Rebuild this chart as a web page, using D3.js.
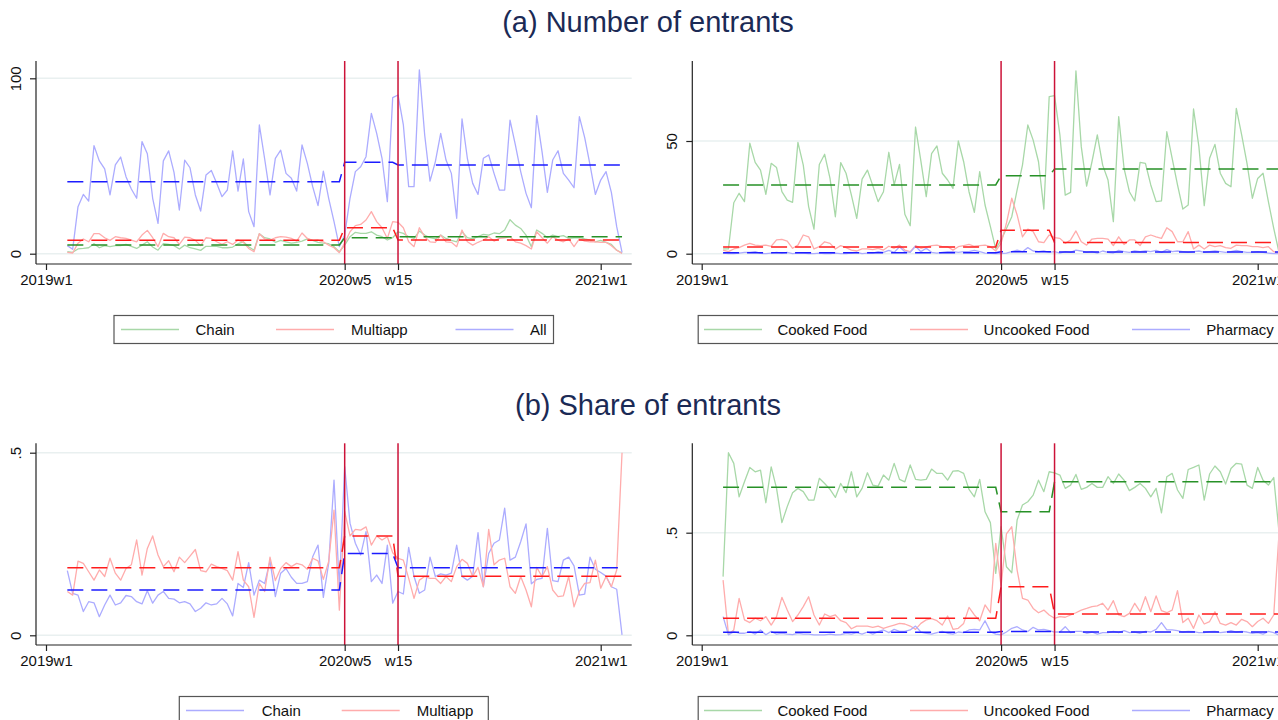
<!DOCTYPE html>
<html>
<head>
<meta charset="utf-8">
<script src="https://cdn.jsdelivr.net/npm/d3@7"></script>
<style>
  body { margin: 0; background: #fff; }
  text { font-family: "Liberation Sans", Arial, Helvetica, sans-serif; }
</style>
</head>
<body>
<svg id="chart" width="1278" height="720"></svg>
<script>
// weeks counted from 2019w1 (Stata weekly dates, 52 weeks a year)
var weeks = d3.range(4, 109);   // 2019w5 .. 2021w5
var tickWeeks = [0, 56, 66, 104];
var tickLabels = ["2019w1", "2020w5", "w15", "2021w1"];
var breakWeeks = [56, 66];      // 2020w5 and 2020w15

// (a) number of entrants, left panel
var nChain = [1.1,0.8,2.7,3,3.4,5.7,3.4,4.6,4,4.6,4.6,5.3,4.2,3,4.9,6.8,3.8,2,5.7,5.3,4.6,2.7,4.9,3.4,2.7,1.9,4.2,4.2,4.2,3.4,3.4,3.8,5.7,6.8,4,2,11.4,9.1,8.4,6.5,7.6,6.8,6,6.5,7.2,8.4,7.6,6.5,6,5.7,4,1.1,
  4.9,9.7,12.2,11.6,11.6,12.5,10.6,9.7,7.8,9.1,12.5,11.6,9.7,8.7,12.9,10.6,9.1,8.4,10.6,8.7,7.6,6.8,12.5,9.1,8.4,9.7,11,10.6,11.8,11.4,13.5,19.4,16.3,14.4,10.6,4,13.5,11.6,9.1,10.6,9.7,10.3,8.7,9.1,9.1,8.4,7.8,6.8,7.6,6.5,5.3,2,0.4];
var nMulti = [0.8,0.4,6,8.4,6.8,11.4,11.4,9.1,7.6,9.7,9.1,8.7,7.8,6.8,10.6,13.3,9.1,4,11.6,9.7,9.1,5.3,9.5,9.1,7.6,4.6,9.1,8.7,6.8,5.3,6.8,5.3,7.8,6.5,3,1.1,11.4,8.4,7.8,9.1,9.7,9.5,8.7,7.2,11.8,8.7,7.6,7.8,6.8,4.9,3.4,0.6,
  6,12.5,16,16.7,19.2,24,18.3,14.8,8.7,18.3,17.9,14.8,6.8,4,14.8,9.7,6.8,6.5,10.6,6.8,6.5,4,13.5,6.8,4.9,6.5,7.8,9.7,7.2,8.7,9.1,9.7,6.8,6,4.6,2.7,12.5,9.1,6,9.7,7.8,6.8,8.4,4,8.4,7.2,6.8,6.8,6.5,6.5,4.6,2,0.2];
var nAll = [4.6,2.5,26.8,33.8,30,61.6,52.9,48.3,33.5,50.6,55.1,43.9,36.9,31.6,63.9,57,31.6,17.3,52.9,58.6,46.4,24.9,53.4,49,33.5,24.3,44.9,47.5,40.1,32.5,36.3,58.6,35.7,54,24,15.4,73.4,54,33.5,54.4,59,45.8,43,35.7,62,51.5,38.2,27.4,47.1,31.6,18.3,4,
  10.6,31.6,46.8,49.6,55.3,80,68.6,54.4,29.7,89,90.5,73.4,38.2,38.2,104.8,67.7,41.4,52.5,68.6,53.4,45.8,20.2,76.8,54.4,40.1,33.8,54.4,56.3,45.8,36.3,36.3,76.2,62,46.8,34.4,26.2,78.7,58.2,35,53.4,58.7,45.8,42,37.6,78.1,66.2,50.6,33.8,42,46.8,35,15.4,0.8];

// (a) number of entrants, right panel
var nCooked = [2.1,2.1,22.6,26.8,23.1,49,40.5,37.1,26.3,40.1,38.2,27.5,23.8,22.8,49.4,39.3,20.9,10.9,39.6,44.1,33.4,16.4,40.4,35.7,26,15.7,33.1,37.1,30.2,23.1,27.5,45,30.5,39.6,17.5,12.4,56.2,41.1,25.3,44.4,47.8,35.7,32.7,29,50,40.8,27.5,18.3,36.4,21.6,12,2.1,
  6.1,11.2,16.4,28.3,39.3,57.1,50.4,40.8,19.8,69.7,70.1,52.7,26,27.2,81.1,47.5,30,40.8,52.7,39.3,32.7,14.2,60.8,37.9,27.5,23.4,40.5,40.1,30.5,23.1,23.4,54.1,42.3,30.5,19.8,21.6,64.2,47.5,21.3,42.3,48.5,35.7,31.2,29.7,64.5,52.7,40.1,24.6,33.4,35.7,23.1,11.2,0.5];
var nUncooked = [1.6,0.9,2.1,2.7,3.8,4.6,3.8,3.6,3.8,3.3,6.1,6.4,5.6,2.4,3.8,8.3,7.5,2.1,3.1,5.3,4.6,2.1,3.6,2.7,1.6,1.2,2.1,2.1,1.8,2.4,1.6,3.3,2.4,3.8,1.6,0.9,3.6,2.4,3,3.6,3.8,3.1,3.1,1.6,3.1,3.6,4.1,3.3,3.6,3.8,3.1,1.2,
  4.6,13.5,24.6,17.2,7.5,10.9,9.8,5.3,4.9,8.3,7.1,6.8,4.6,6.1,10.1,5.3,3.8,6.5,6.8,6.8,6.5,3.6,7.5,4.1,6.1,6.1,3.6,7.5,8.3,7.5,6.8,11.5,9.8,5.3,5.3,9.8,2.1,3.8,2.1,3.8,3.1,3.6,2.7,2.4,3.8,3.6,3.6,3.1,3.1,2.7,3.1,0.9,0.1];
var nPharm = [0.3,0,0,0.3,0.6,0.6,0.9,0.1,0,0.3,0.6,0.3,0.6,0,0.3,0.3,0,0,0.3,0,0,0.3,0,0,0.3,0.6,0,0.3,0.3,0.9,0.6,1.5,0.6,3.1,0.9,0.6,3.3,0.9,2.4,0.6,0.3,0.6,0.9,0.9,0.6,0.9,0.9,1.5,0.9,0.3,0.1,0,
  0,0.3,0.9,1.6,0.9,2.7,1.2,0.9,1.2,0.6,0.9,0.3,0.9,0.6,1.6,1.2,0.6,0.9,0.3,1.2,0.6,0.3,1.5,0.9,0.6,1.2,0.9,1.2,0.9,1.5,0.6,1.8,0.9,1.2,0.9,0.6,0.9,1.2,0.6,0.9,1.2,0.9,0.6,0.9,1.5,0.9,0.6,0.6,0.9,0.6,0.3,0,0];

// (b) share of entrants, left panel
var sChain = [0.177,0.115,0.110,0.065,0.092,0.089,0.051,0.083,0.110,0.083,0.089,0.109,0.106,0.092,0.086,0.122,0.088,0.110,0.120,0.101,0.099,0.089,0.092,0.086,0.065,0.074,0.089,0.083,0.086,0.101,0.086,0.053,0.142,0.131,0.199,0.110,0.151,0.142,0.204,0.106,0.170,0.183,0.159,0.142,0.142,0.147,0.215,0.247,0.104,0.197,0.425,0.133,
  0.462,0.307,0.252,0.22,0.284,0.147,0.165,0.142,0.247,0.088,0.120,0.113,0.241,0.161,0.115,0.124,0.214,0.161,0.168,0.165,0.170,0.247,0.161,0.151,0.162,0.281,0.133,0.224,0.252,0.261,0.348,0.206,0.214,0.256,0.305,0.141,0.153,0.156,0.293,0.150,0.147,0.206,0.214,0.190,0.110,0.113,0.214,0.181,0.172,0.162,0.133,0.126,0.001];
var sMulti = [0.120,0.110,0.203,0.197,0.174,0.151,0.179,0.161,0.211,0.170,0.151,0.183,0.193,0.261,0.165,0.238,0.272,0.220,0.188,0.204,0.174,0.214,0.199,0.217,0.235,0.177,0.174,0.195,0.188,0.183,0.177,0.151,0.229,0.151,0.133,0.049,0.142,0.120,0.214,0.150,0.183,0.199,0.188,0.197,0.193,0.181,0.211,0.204,0.153,0.202,0.343,0.069,
  0.339,0.272,0.290,0.288,0.297,0.247,0.272,0.261,0.270,0.226,0.211,0.206,0.156,0.101,0.151,0.161,0.156,0.156,0.142,0.161,0.147,0.188,0.208,0.197,0.161,0.186,0.133,0.290,0.193,0.206,0.211,0.133,0.115,0.161,0.124,0.078,0.186,0.161,0.188,0.124,0.106,0.108,0.161,0.078,0.120,0.142,0.144,0.206,0.129,0.161,0.133,0.179,0.500];

// (b) share of entrants, right panel
var sCooked = [0.286,0.890,0.838,0.675,0.748,0.818,0.797,0.805,0.646,0.821,0.716,0.549,0.627,0.695,0.716,0.700,0.659,0.659,0.765,0.740,0.711,0.672,0.740,0.695,0.797,0.675,0.716,0.792,0.732,0.727,0.781,0.756,0.838,0.760,0.748,0.830,0.760,0.756,0.760,0.810,0.789,0.789,0.756,0.800,0.802,0.789,0.711,0.675,0.760,0.602,0.549,0.302,
  0.529,0.334,0.305,0.562,0.635,0.651,0.683,0.756,0.700,0.797,0.792,0.781,0.716,0.732,0.784,0.711,0.721,0.740,0.721,0.721,0.773,0.740,0.786,0.756,0.705,0.721,0.740,0.716,0.675,0.716,0.597,0.773,0.789,0.708,0.667,0.808,0.818,0.830,0.659,0.786,0.825,0.797,0.737,0.813,0.838,0.834,0.732,0.716,0.818,0.756,0.732,0.769,0.5];
var sUncooked = [0.269,0.006,0.026,0.180,0.075,0.062,0.083,0.071,0.091,0.050,0.091,0.185,0.123,0.067,0.099,0.140,0.188,0.099,0.050,0.104,0.091,0.099,0.071,0.062,0.032,0.045,0.045,0.045,0.039,0.045,0.034,0.042,0.050,0.058,0.055,0.045,0.029,0.058,0.075,0.081,0.071,0.050,0.094,0.029,0.034,0.058,0.136,0.099,0.071,0.148,0.110,0.448,
  0.240,0.494,0.529,0.318,0.180,0.172,0.131,0.110,0.123,0.099,0.083,0.091,0.088,0.099,0.110,0.123,0.131,0.140,0.143,0.156,0.123,0.169,0.099,0.091,0.107,0.156,0.115,0.188,0.115,0.192,0.120,0.110,0.123,0.218,0.062,0.083,0.034,0.099,0.055,0.067,0.115,0.058,0.050,0.062,0.050,0.078,0.067,0.042,0.067,0.083,0.058,0.099,0.5];
var sPharm = [0.091,0.002,0.018,0.010,0.010,0.018,0.006,0.026,0.003,0.019,0.006,0.010,0.006,0.003,0.010,0.006,0.006,0.002,0.002,0.002,0.006,0.002,0.003,0.010,0.006,0.013,0.006,0.016,0.006,0.018,0.026,0.013,0.029,0.019,0.019,0.026,0.045,0.016,0.010,0.006,0.013,0.019,0.010,0.006,0.016,0.013,0.026,0.029,0.026,0.071,0.018,0.006,
  0.002,0.016,0.034,0.042,0.026,0.018,0.039,0.026,0.029,0.023,0.016,0.016,0.042,0.013,0.019,0.019,0.010,0.016,0.006,0.013,0.013,0.019,0.013,0.023,0.013,0.016,0.010,0.019,0.016,0.029,0.062,0.026,0.026,0.023,0.016,0.019,0.018,0.013,0.013,0.018,0.019,0.013,0.016,0.023,0.016,0.019,0.016,0.010,0.013,0.006,0.019,0.013,0];

// period means (before 2020w5, 2020w5-w14, from 2020w15)
var fitNChain = [5.0, 9.1, 9.7];
var fitNMulti = [7.6, 14.8, 7.8];
var fitNAll = [41.0, 52.1, 50.6];
var fitNCooked = [30.5, 34.6, 37.6];
var fitNUncooked = [3.0, 10.4, 5.0];
var fitNPharm = [0.45, 0.9, 0.75];
var fitSChain = [0.124, 0.224, 0.185];
var fitSMulti = [0.185, 0.272, 0.162];
var fitSCooked = [0.721, 0.602, 0.748];
var fitSUncooked = [0.083, 0.237, 0.104];
var fitSPharm = [0.015, 0.019, 0.016];

var lightGreen = "#a8d8a8", lightRed = "#ffacac", lightBlue = "#acacff";
var darkGreen = "#279127", darkRed = "#ff1c1c", darkBlue = "#1c1cff";
var vlineColor = "#cc1238";

var svg = d3.select("#chart");

// titles
svg.append("text").attr("x", 648).attr("y", 32).attr("text-anchor", "middle")
  .attr("font-size", 29).attr("fill", "#1b2a55").text("(a) Number of entrants");
svg.append("text").attr("x", 648).attr("y", 415).attr("text-anchor", "middle")
  .attr("font-size", 29).attr("fill", "#1b2a55").text("(b) Share of entrants");

function fitted(levels) {
  return weeks.map(function(t) {
    return t < breakWeeks[0] ? levels[0] : (t < breakWeeks[1] ? levels[1] : levels[2]);
  });
}

function drawPanel(p) {
  var g = svg.append("g");
  var x = d3.scaleLinear().domain([0, 104]).range(p.xr);
  var y = d3.scaleLinear().domain(p.yDomain).range(p.yRange);

  // grid
  g.selectAll(".grid").data(p.yTicks).enter().append("line")
    .attr("x1", p.left).attr("x2", p.right)
    .attr("y1", function(d) { return y(d); }).attr("y2", function(d) { return y(d); })
    .attr("stroke", "#e9f0f0").attr("stroke-width", 1.6);

  var line = d3.line().x(function(d) { return x(d[0]); }).y(function(d) { return y(d[1]); });

  p.series.forEach(function(s) {
    g.append("path").datum(weeks.map(function(t, i) { return [t, s.values[i]]; }))
      .attr("d", line).attr("fill", "none").attr("stroke", s.color).attr("stroke-width", 1.3)
      .attr("stroke-linejoin", "round");
  });
  p.fits.forEach(function(s) {
    var f = fitted(s.levels);
    g.append("path").datum(weeks.map(function(t, i) { return [t, f[i]]; }))
      .attr("d", line).attr("fill", "none").attr("stroke", s.color).attr("stroke-width", 1.5)
      .attr("stroke-dasharray", "16,8");
  });

  // vertical lines at 2020w5 and 2020w15
  g.selectAll(".vl").data(breakWeeks).enter().append("line")
    .attr("x1", function(d) { return x(d); }).attr("x2", function(d) { return x(d); })
    .attr("y1", p.top).attr("y2", p.bottom)
    .attr("stroke", vlineColor).attr("stroke-width", 1.5);

  // axes
  var xAxis = d3.axisBottom(x).tickValues(tickWeeks)
    .tickFormat(function(d, i) { return tickLabels[i]; })
    .tickSize(6).tickPadding(4).tickSizeOuter(0);
  var gx = g.append("g").attr("transform", "translate(0," + p.bottom + ")").call(xAxis);
  gx.select(".domain").attr("d", "M" + p.left + ",0H" + p.right);

  var yAxis = d3.axisLeft(y).tickValues(p.yTicks).tickFormat(p.yFormat)
    .tickSize(6).tickSizeOuter(0);
  var gy = g.append("g").attr("transform", "translate(" + p.left + ",0)").call(yAxis);
  gy.select(".domain").attr("d", "M0," + p.top + "V" + p.bottom);
  gy.selectAll(".tick text").attr("transform", "rotate(-90)")
    .attr("x", 0).attr("y", -15).attr("dy", 0).attr("text-anchor", "middle");

  [gx, gy].forEach(function(a) {
    a.select(".domain").attr("stroke", "#222").attr("stroke-width", 1.2);
    a.selectAll(".tick line").attr("stroke", "#222").attr("stroke-width", 1.2);
    a.selectAll(".tick text").attr("font-size", 15).attr("fill", "#111")
      .attr("font-family", "'Liberation Sans', Arial, sans-serif");
  });

  // legend
  var lg = p.legend;
  g.append("rect").attr("x", lg.x).attr("y", lg.y).attr("width", lg.w).attr("height", 28)
    .attr("fill", "#fff").attr("stroke", "#555").attr("stroke-width", 1.2);
  lg.items.forEach(function(it) {
    g.append("line").attr("x1", it.lx).attr("x2", it.lx + 58)
      .attr("y1", lg.y + 14).attr("y2", lg.y + 14)
      .attr("stroke", it.color).attr("stroke-width", 1.5);
    g.append("text").attr("x", it.tx).attr("y", lg.y + 19.5)
      .attr("font-size", 15).attr("fill", "#111").text(it.label);
  });
}

var numFmt = function(d) { return d3.format("d")(d); };
var shareFmt = function(d) { return d === 0 ? "0" : d3.format(".1f")(d).replace(/^0/, ""); };

drawPanel({
  left: 36, right: 631.7, top: 61, bottom: 264, xr: [46, 600.7],
  yDomain: [0, 100], yRange: [253.7, 78.3], yTicks: [0, 100], yFormat: numFmt,
  series: [{values: nChain, color: lightGreen}, {values: nMulti, color: lightRed}, {values: nAll, color: lightBlue}],
  fits: [{levels: fitNChain, color: darkGreen}, {levels: fitNMulti, color: darkRed}, {levels: fitNAll, color: darkBlue}],
  legend: {x: 114, y: 315.5, w: 439.5, items: [
    {lx: 121, tx: 195.5, color: lightGreen, label: "Chain"},
    {lx: 276, tx: 351, color: lightRed, label: "Multiapp"},
    {lx: 455.5, tx: 530, color: lightBlue, label: "All"}]}
});

drawPanel({
  left: 692.3, right: 1288, top: 61, bottom: 264, xr: [701.7, 1257.7],
  yDomain: [0, 50], yRange: [253.7, 141], yTicks: [0, 50], yFormat: numFmt,
  series: [{values: nCooked, color: lightGreen}, {values: nUncooked, color: lightRed}, {values: nPharm, color: lightBlue}],
  fits: [{levels: fitNCooked, color: darkGreen}, {levels: fitNUncooked, color: darkRed}, {levels: fitNPharm, color: darkBlue}],
  legend: {x: 698.2, y: 315.5, w: 600, items: [
    {lx: 704, tx: 777.4, color: lightGreen, label: "Cooked Food"},
    {lx: 910, tx: 983.6, color: lightRed, label: "Uncooked Food"},
    {lx: 1132, tx: 1206.3, color: lightBlue, label: "Pharmacy"}]}
});

drawPanel({
  left: 36, right: 631.7, top: 443.3, bottom: 645, xr: [46, 600.7],
  yDomain: [0, 0.5], yRange: [635.3, 452.7], yTicks: [0, 0.5], yFormat: shareFmt,
  series: [{values: sChain, color: lightBlue}, {values: sMulti, color: lightRed}],
  fits: [{levels: fitSChain, color: darkBlue}, {levels: fitSMulti, color: darkRed}],
  legend: {x: 179.3, y: 696.5, w: 309, items: [
    {lx: 186, tx: 261.7, color: lightBlue, label: "Chain"},
    {lx: 341.7, tx: 416.7, color: lightRed, label: "Multiapp"}]}
});

drawPanel({
  left: 692.3, right: 1288, top: 443.3, bottom: 645, xr: [701.7, 1257.7],
  yDomain: [0, 0.5], yRange: [635.3, 532.7], yTicks: [0, 0.5], yFormat: shareFmt,
  series: [{values: sCooked, color: lightGreen}, {values: sUncooked, color: lightRed}, {values: sPharm, color: lightBlue}],
  fits: [{levels: fitSCooked, color: darkGreen}, {levels: fitSUncooked, color: darkRed}, {levels: fitSPharm, color: darkBlue}],
  legend: {x: 698.2, y: 696.5, w: 600, items: [
    {lx: 704, tx: 777.4, color: lightGreen, label: "Cooked Food"},
    {lx: 910, tx: 983.6, color: lightRed, label: "Uncooked Food"},
    {lx: 1132, tx: 1206.3, color: lightBlue, label: "Pharmacy"}]}
});
</script>
</body>
</html>
